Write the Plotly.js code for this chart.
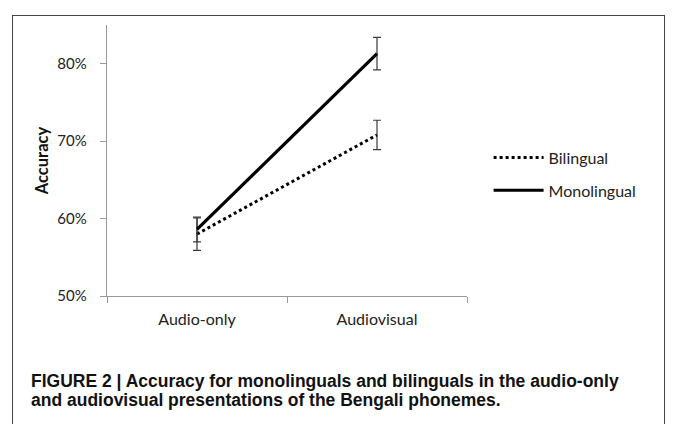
<!DOCTYPE html>
<html>
<head>
<meta charset="utf-8">
<script src="https://cdn.plot.ly/plotly-3.0.1.min.js"></script>
<style>
  html, body { margin: 0; padding: 0; background: #fff; }
  #wrap { position: relative; width: 673px; height: 424px; overflow: hidden; }
  #frame { position: absolute; left: 12px; top: 15px; width: 653px; height: 430px; border: 1px solid #444; box-sizing: border-box; pointer-events: none; }
  #chart { position: absolute; left: 0; top: 0; width: 673px; height: 424px; }
</style>
</head>
<body>
<div id="wrap">
  <div id="chart"></div>
  <div id="frame"></div>
</div>
<script>
// Data
const categories = ["Audio-only", "Audiovisual"];
const bilingual = [0.580, 0.708];
const bilingualErr = [0.021, 0.019];
const monolingual = [0.586, 0.813];
const monolingualErr = [0.016, 0.021];
const seriesNames = ["Bilingual", "Monolingual"];
const yTickVals = [0.5, 0.6, 0.7, 0.8];
const yTitle = "Accuracy";
const captionLines = [
  "FIGURE 2 | Accuracy for monolinguals and bilinguals in the audio-only",
  "and audiovisual presentations of the Bengali phonemes."
];

const errStyle = { type: "data", visible: true, color: "#3a3a3a", thickness: 1.2, width: 4 };

const traces = [
  {
    x: categories, y: bilingual, name: seriesNames[0], type: "scatter", mode: "lines",
    line: { color: "#000", width: 3, dash: "dot" },
    error_y: Object.assign({ array: bilingualErr }, errStyle),
    legendgroup: "b"
  },
  {
    x: categories, y: monolingual, name: seriesNames[1], type: "scatter", mode: "lines",
    line: { color: "#000", width: 3.2 },
    error_y: Object.assign({ array: monolingualErr }, errStyle),
    legendgroup: "m"
  }
];

const capFont = { family: "Liberation Sans, Arial, sans-serif", size: 17.5, color: "#111", weight: "bold" };

const layout = {
  width: 673, height: 424,
  margin: { l: 107, r: 206, t: 25, b: 128 },
  paper_bgcolor: "#fff", plot_bgcolor: "#fff",
  font: { family: "Lato, Open Sans, sans-serif", size: 15, color: "#222" },
  showlegend: true,
  legend: {
    x: 1.06, xanchor: "left", y: 0.45, yanchor: "middle",
    font: { family: "Lato, sans-serif", size: 16, color: "#222" },
    tracegroupgap: 9, itemwidth: 50, bgcolor: "rgba(0,0,0,0)"
  },
  xaxis: {
    type: "category", range: [-0.5, 1.5], tickson: "boundaries",
    showline: true, linecolor: "#999", linewidth: 1.2,
    ticks: "outside", ticklen: 6, tickcolor: "#999",
    showgrid: false, zeroline: false, fixedrange: true,
    tickfont: { family: "Lato, sans-serif", size: 16, color: "#222" },
    ticklabelstandoff: 9
  },
  yaxis: {
    range: [0.5, 0.85], tickvals: yTickVals, tickformat: ".0%",
    showline: true, linecolor: "#999", linewidth: 1.2,
    ticks: "outside", ticklen: 6, tickcolor: "#999",
    showgrid: false, zeroline: false, fixedrange: true,
    tickfont: { family: "Lato, sans-serif", size: 15, color: "#222" },
    ticklabelstandoff: 10,
    title: { text: yTitle, font: { family: "Lato, sans-serif", size: 16.5, color: "#111", weight: "bold" }, standoff: 4 }
  },
  annotations: [
    { text: captionLines[0], xref: "paper", yref: "paper", x: -0.2167, y: -0.3145, xanchor: "left", yanchor: "middle", showarrow: false, font: capFont },
    { text: captionLines[1], xref: "paper", yref: "paper", x: -0.2167, y: -0.384, xanchor: "left", yanchor: "middle", showarrow: false, font: capFont }
  ]
};

Plotly.newPlot("chart", traces, layout, { displayModeBar: false, staticPlot: true });
</script>
</body>
</html>
